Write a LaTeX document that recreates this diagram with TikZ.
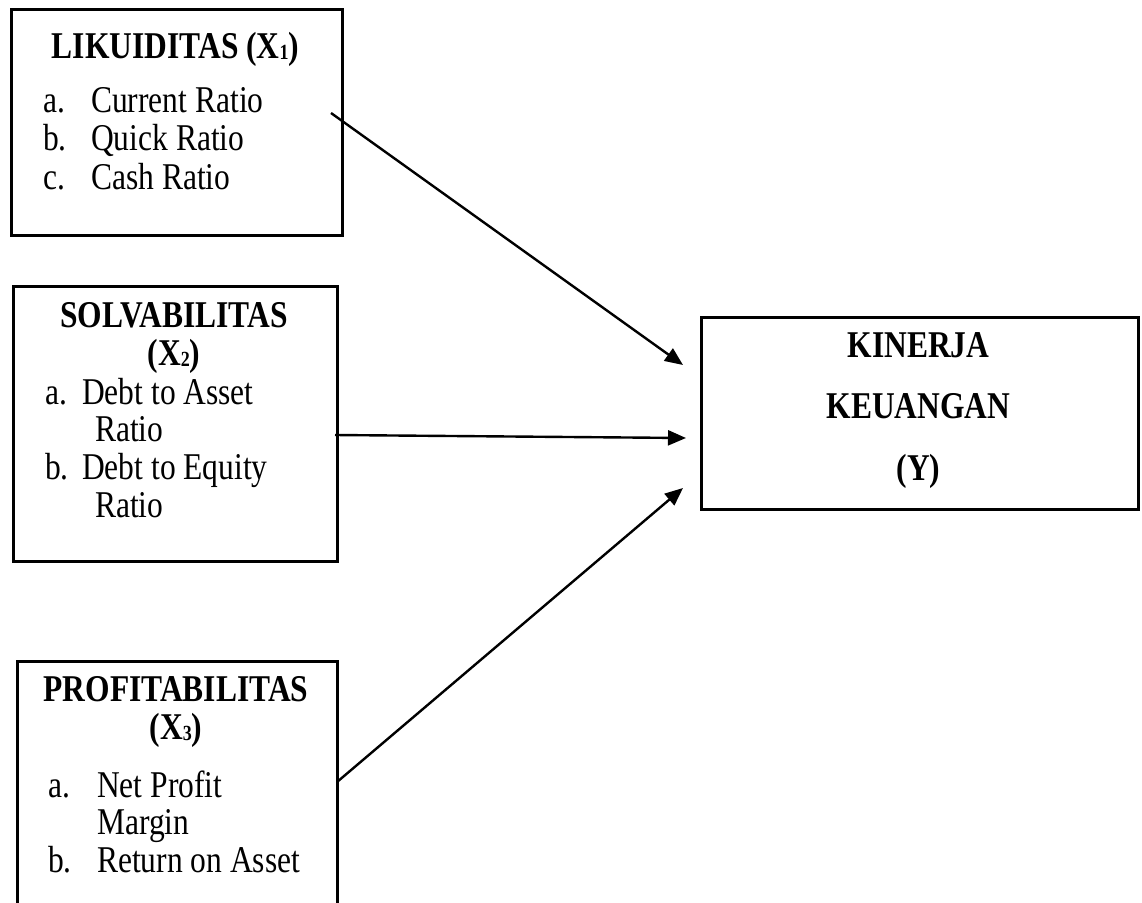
\documentclass[tikz,border=0pt]{standalone}
\usepackage{fontspec}
\usepackage{graphicx}
\setmainfont{Liberation Serif}
\usetikzlibrary{arrows.meta}
\newcommand{\sbs}[1]{\raisebox{-1.5pt}{\fontsize{18}{18}\selectfont #1}}
\newcommand{\tall}[1]{\scalebox{1}[1.2]{#1}}
\tikzset{
  box/.style={draw, line width=2.7pt, inner sep=0pt, anchor=north west},
  ttl/.style={font=\bfseries\fontsize{31.5}{38}\selectfont, anchor=base, inner sep=0pt},
  lst/.style={font=\fontsize{31.5}{38}\selectfont, anchor=base west, inner sep=0pt},
  arr/.style={-{Triangle[length=18pt,width=15pt]}, line width=2.4pt}
}
\begin{document}
\begin{tikzpicture}[x=1pt,y=-1pt]
\clip (0,0) rectangle (1142,902);
\fill[white] (0,0) rectangle (1142,902);
% boxes
\node[box, minimum width=331pt, minimum height=226pt] (b1) at (10,8) {};
\node[box, minimum width=324pt, minimum height=275pt] (b2) at (12,285) {};
\node[box, minimum width=320pt, minimum height=290pt] (b3) at (16,660) {};
\node[box, minimum width=437pt, minimum height=192pt] (by) at (700,316) {};
% box 1 text
\node[ttl] (t1) at (175.5,58) {\tall{LIKUIDITAS (X\sbs{1})}};
\node[lst] (l1a) at (43,112) {\tall{a.}};
\node[lst] (l1at) at (91,112) {\tall{Current Ratio}};
\node[lst] (l1b) at (43,150) {\tall{b.}};
\node[lst] (l1bt) at (91,150) {\tall{Quick Ratio}};
\node[lst] (l1c) at (43,189) {\tall{c.}};
\node[lst] (l1ct) at (91,189) {\tall{Cash Ratio}};
% box 2 text
\node[ttl] (t2) at (174,327) {\tall{SOLVABILITAS}};
\node[ttl] (t2b) at (174,365) {\tall{(X\sbs{2})}};
\node[lst] (l2a) at (45,404) {\tall{a.}};
\node[lst] (l2at) at (82,404) {\tall{Debt to Asset}};
\node[lst] (l2at2) at (95,441) {\tall{Ratio}};
\node[lst] (l2b) at (45,479) {\tall{b.}};
\node[lst] (l2bt) at (82,479) {\tall{Debt to Equity}};
\node[lst] (l2bt2) at (95,517) {\tall{Ratio}};
% box 3 text
\node[ttl] (t3) at (176,701) {\tall{PROFITABILITAS}};
\node[ttl] (t3b) at (176,739) {\tall{(X\sbs{3})}};
\node[lst] (l3a) at (48,797) {\tall{a.}};
\node[lst] (l3at) at (97,797) {\tall{Net Profit}};
\node[lst] (l3at2) at (97,834) {\tall{Margin}};
\node[lst] (l3b) at (48,872) {\tall{b.}};
\node[lst] (l3bt) at (97,872) {\tall{Return on Asset}};
% box Y text
\node[ttl] (ty1) at (918.5,357) {\tall{KINERJA}};
\node[ttl] (ty2) at (918.5,418) {\tall{KEUANGAN}};
\node[ttl] (ty3) at (918.5,480) {\tall{(Y)}};
% arrow end points
\coordinate (s1) at (331,113);
\coordinate (e1) at (683,365);
\coordinate (s2) at (335,435);
\coordinate (e2) at (686,438);
\coordinate (s3) at (337,782);
\coordinate (e3) at (683,488);
\draw[arr] (s1) -- (e1);
\draw[arr] (s2) -- (e2);
\draw[arr] (s3) -- (e3);
\end{tikzpicture}
\end{document}
